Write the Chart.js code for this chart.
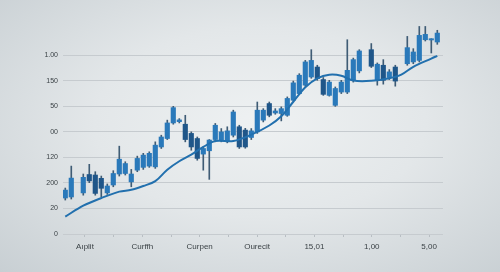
<!DOCTYPE html>
<html>
<head>
<meta charset="utf-8">
<script src="https://cdn.jsdelivr.net/npm/chart.js@4.4.1/dist/chart.umd.min.js"></script>
<style>
  html, body { margin: 0; padding: 0; }
  body {
    width: 500px; height: 272px; overflow: hidden;
    background: radial-gradient(ellipse at 52% 45%, #eef1f2 0%, #e3e7e9 45%, #c8cfd3 100%);
  }
  #wrap { position: relative; width: 500px; height: 272px; }
</style>
</head>
<body>
<div id="wrap"><canvas id="myChart" width="500" height="272"></canvas></div>
<script>
// tick labels (as printed on the picture)
const xLabels = ['Aıplit', 'Curffh', 'Curpen', 'Ourecit', '15,01', '1,00', '5,00'];
const yLabels = ['0', '20', '200', '120', '00', '50', '150', '1.00'];

// candles: position index, open / close / high / low
const candleIdx = [0, 1, 3, 4, 5, 6, 7, 8, 9, 10, 11, 12, 13, 14, 15, 16, 17, 18, 19, 20,
    21, 22, 23, 24, 25, 26, 27, 28, 29, 30, 31, 32, 33, 34, 35, 36, 37, 38, 39, 40,
    41, 42, 43, 44, 45, 46, 47, 48, 49, 51, 52, 53, 54, 55, 57, 58, 59, 60, 61, 62];
const openVals = [1.41, 1.45, 1.61, 2.33, 2.31, 2.18, 1.61, 1.92, 2.35, 2.37, 2.04, 2.50, 2.61, 2.66, 2.63, 3.41, 3.74, 4.35, 4.40, 4.30,
    3.94, 3.74, 3.13, 3.26, 3.70, 3.68, 3.65, 3.87, 4.20, 4.07, 3.78, 4.00, 4.46, 5.11, 4.74, 4.72, 4.65, 5.24, 5.50, 5.83,
    6.15, 6.54, 6.05, 5.43, 5.04, 5.56, 5.56, 6.02, 6.39, 7.22, 6.02, 6.61, 6.13, 6.54, 6.67, 6.74, 6.80, 7.61, 7.60, 7.52];
const closeVals = [1.72, 2.19, 2.22, 2.08, 1.59, 1.79, 1.88, 2.37, 2.93, 2.76, 2.35, 2.96, 3.09, 3.16, 3.48, 3.80, 4.35, 4.95, 4.47, 3.70,
    3.41, 2.96, 3.35, 3.68, 4.26, 4.00, 4.04, 4.78, 3.41, 3.41, 4.04, 4.85, 4.85, 4.65, 4.82, 4.91, 5.31, 5.92, 6.22, 6.74,
    6.80, 6.09, 5.47, 5.95, 5.70, 5.95, 6.41, 6.83, 7.17, 6.57, 6.65, 6.02, 6.35, 5.99, 7.30, 7.13, 7.78, 7.82, 7.65, 7.87];
const highVals = [1.80, 2.66, 2.35, 2.73, 2.44, 2.27, 1.96, 2.48, 3.44, 2.83, 2.53, 3.05, 3.16, 3.22, 3.61, 3.87, 4.46, 5.00, 4.52, 4.65,
    4.00, 3.80, 3.41, 3.70, 4.33, 4.13, 4.20, 4.85, 4.26, 4.14, 4.13, 5.17, 4.91, 5.17, 4.91, 4.98, 5.37, 5.99, 6.28, 6.80,
    7.22, 6.61, 6.13, 6.02, 5.76, 6.02, 7.61, 6.89, 7.22, 7.46, 6.70, 6.83, 6.44, 6.61, 7.74, 7.26, 8.13, 8.13, 7.65, 7.98];
const lowVals = [1.33, 1.37, 1.52, 2.01, 1.52, 1.46, 1.55, 1.85, 2.27, 2.31, 1.85, 2.44, 2.53, 2.61, 2.57, 3.35, 3.70, 4.30, 4.35, 3.61,
    3.28, 2.89, 2.50, 2.14, 3.61, 3.61, 3.57, 3.80, 3.35, 3.36, 3.70, 3.94, 4.39, 4.59, 4.69, 4.43, 4.61, 5.21, 5.46, 5.79,
    6.10, 6.02, 5.43, 5.40, 5.00, 5.50, 5.50, 5.95, 6.31, 6.52, 5.83, 5.87, 6.05, 5.79, 6.61, 6.67, 6.74, 7.56, 7.09, 7.43];

// trend line
const lineIdx = [0, 3, 6, 9, 11, 13, 15, 17, 19, 21, 23, 25, 28, 31, 34, 36, 38, 40, 42, 44, 46, 48, 51, 54, 56, 58, 61, 62];
const lineVals = [0.68, 1.11, 1.41, 1.66, 1.73, 1.88, 2.07, 2.52, 2.85, 3.11, 3.41, 3.64, 3.64, 3.89, 4.25, 4.61, 5.18, 5.75,
    6.10, 6.24, 6.20, 6.01, 6.00, 6.10, 6.24, 6.55, 6.87, 6.98];

const upColor = '#2a79ba';
const downColor = '#1f5689';
const candleColors = candleIdx.map((_, i) => closeVals[i] < openVals[i] ? downColor : upColor);

const tickFont = { family: 'Liberation Sans', size: 8 };

new Chart(document.getElementById('myChart').getContext('2d'), {
    data: {
        datasets: [{
            type: 'line',
            data: lineIdx.map((x, i) => ({ x: x, y: lineVals[i] })),
            borderColor: '#2270ae',
            borderWidth: 2,
            pointRadius: 0,
            tension: 0.35,
            order: 0
        }, {
            type: 'bar',
            data: candleIdx.map((x, i) => ({ x: x, y: [openVals[i], closeVals[i]] })),
            backgroundColor: candleColors,
            barThickness: 4.5,
            grouped: false,
            order: 1
        }, {
            type: 'bar',
            data: candleIdx.map((x, i) => ({ x: x, y: [lowVals[i], highVals[i]] })),
            backgroundColor: '#3f5c75',
            barThickness: 1,
            grouped: false,
            order: 2
        }]
    },
    options: {
        responsive: false,
        animation: false,
        layout: { padding: { left: 0, right: 57, top: 17, bottom: 0 } },
        plugins: {
            legend: { display: false },
            tooltip: { enabled: false }
        },
        scales: {
            x: {
                type: 'linear',
                offset: false,
                min: -0.38,
                max: 62.95,
                afterBuildTicks: (scale) => {
                    scale.ticks = [];
                    for (let k = 0; k < 13; k++) scale.ticks.push({ value: 3.28 + k * 4.78 });
                },
                afterFit: (scale) => { scale.height = 38; },
                grid: { offset: false, drawOnChartArea: false, drawTicks: true, tickLength: 3, color: '#b8bec3' },
                border: { display: false },
                ticks: {
                    autoSkip: false,
                    maxRotation: 0,
                    padding: 5,
                    color: '#3b4246',
                    font: tickFont,
                    callback: (value, index) => index % 2 === 0 ? xLabels[index / 2] : ''
                }
            },
            y: {
                type: 'linear',
                min: 0,
                max: 8.5,
                afterBuildTicks: (scale) => {
                    scale.ticks = yLabels.map((_, i) => ({ value: i }));
                },
                afterFit: (scale) => { scale.width = 63; },
                grid: { drawTicks: false, color: '#c6cbcf', lineWidth: 1 },
                border: { display: false },
                ticks: {
                    padding: 5,
                    color: '#3b4246',
                    font: { family: 'Liberation Sans', size: 7 },
                    callback: (value, index) => yLabels[index]
                }
            }
        }
    }
});
</script>
</body>
</html>
